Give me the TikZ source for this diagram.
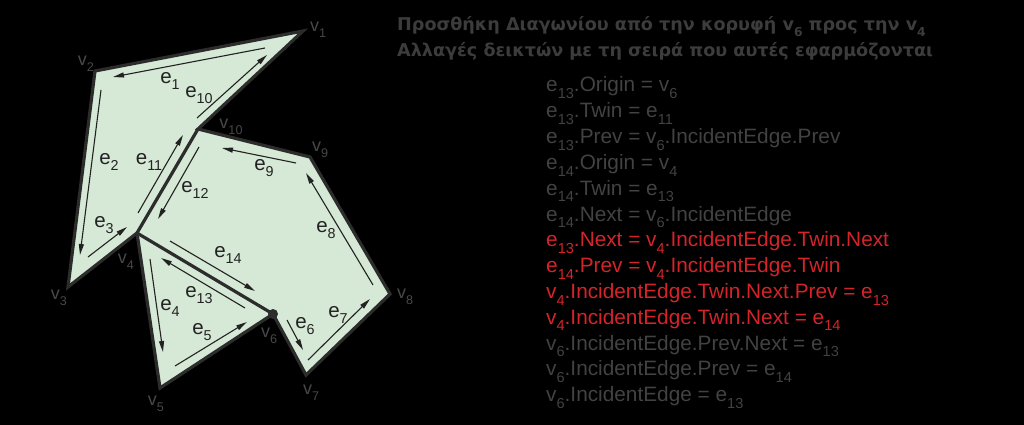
\documentclass[tikz,border=0pt]{standalone}
\usepackage{fontspec}
\setmainfont{Liberation Sans}
\newfontfamily\headfont{DejaVu Sans}
\usetikzlibrary{arrows.meta}
\newcommand\sbs[1]{\raisebox{-0.32em}{\scalebox{0.7}{#1}}}
\definecolor{facefill}{RGB}{214,232,214}
\definecolor{edgecol}{RGB}{44,44,44}
\definecolor{halfcol}{RGB}{34,34,34}
\definecolor{vlabcol}{RGB}{72,72,72}
\definecolor{txtgray}{RGB}{66,66,66}
\definecolor{txtred}{RGB}{212,36,42}
\definecolor{headcol}{RGB}{60,60,60}
\begin{document}
\begin{tikzpicture}[x=1pt,y=-1pt,
  outline/.style={draw=edgecol,line width=3.2pt,line join=miter},
  halfedge/.style={draw=halfcol,line width=1.1pt,-{Triangle[length=11pt,width=5pt]}},
  vlab/.style={text=vlabcol,font=\fontsize{18}{18}\selectfont,inner sep=0pt},
  elab/.style={text=halfcol,font=\fontsize{20.5}{20.5}\selectfont,inner sep=0pt},
  listline/.style={anchor=base west,inner sep=0pt,font=\fontsize{20.8}{20.8}\selectfont},
  headline/.style={anchor=base west,inner sep=0pt,text=headcol,font=\headfont\bfseries\fontsize{17.6}{17.6}\selectfont}]
\fill[black] (0,0) rectangle (1024,425);
\useasboundingbox (0,0) rectangle (1024,425);
% vertices
\coordinate (v1) at (303,31);
\coordinate (v2) at (95,71);
\coordinate (v3) at (68,287);
\coordinate (v4) at (137,233);
\coordinate (v5) at (160,388);
\coordinate (v6) at (273,314);
\coordinate (v7) at (306,375);
\coordinate (v8) at (390,294);
\coordinate (v9) at (310,157);
\coordinate (v10) at (198,129);
\fill[facefill] (v1)--(v2)--(v3)--(v4)--(v5)--(v6)--(v7)--(v8)--(v9)--(v10)--cycle;
\draw[outline] (v1)--(v2)--(v3)--(v4)--(v5)--(v6)--(v7)--(v8)--(v9)--(v10)--cycle;
\draw[outline] (v4)--(v10);
\draw[outline] (v4)--(v6);
\fill[edgecol] (v6) circle (5);
% half-edge end points
\coordinate (h1s) at (265,48);  \coordinate (h1e) at (113,77);
\coordinate (h10s) at (197,118); \coordinate (h10e) at (267,55);
\coordinate (h2s) at (101,90);  \coordinate (h2e) at (80,255);
\coordinate (h3s) at (88,257);  \coordinate (h3e) at (127,227);
\coordinate (h11s) at (138,213); \coordinate (h11e) at (183,135);
\coordinate (h12s) at (199,147); \coordinate (h12e) at (158,219);
\coordinate (h9s) at (296,163); \coordinate (h9e) at (222,148);
\coordinate (h8s) at (373,285); \coordinate (h8e) at (306,173);
\coordinate (h7s) at (308,360); \coordinate (h7e) at (370,299);
\coordinate (h6s) at (287,320); \coordinate (h6e) at (303,350);
\coordinate (h14s) at (170,241); \coordinate (h14e) at (255,291);
\coordinate (h13s) at (245,308); \coordinate (h13e) at (161,258);
\coordinate (h4s) at (150,259); \coordinate (h4e) at (163,352);
\coordinate (h5s) at (175,366); \coordinate (h5e) at (247,322);
\foreach \k in {1,10,2,3,11,12,9,8,7,6,14,13,4,5}
  \draw[halfedge] (h\k s) -- (h\k e);
% vertex labels
\node[vlab] (lv1) at (318,30) {v\sbs{1}};
\node[vlab] (lv2) at (86,64) {v\sbs{2}};
\node[vlab] (lv3) at (59,298) {v\sbs{3}};
\node[vlab] (lv4) at (126,262) {v\sbs{4}};
\node[vlab] (lv5) at (156,404) {v\sbs{5}};
\node[vlab] (lv6) at (269,336) {v\sbs{6}};
\node[vlab] (lv7) at (311,393) {v\sbs{7}};
\node[vlab] (lv8) at (405,297) {v\sbs{8}};
\node[vlab] (lv9) at (320,150) {v\sbs{9}};
\node[vlab] (lv10) at (231,127) {v\sbs{10}};
% edge labels
\node[elab] (le1) at (170,81) {e\sbs{1}};
\node[elab] (le10) at (199,95) {e\sbs{10}};
\node[elab] (le2) at (109,162) {e\sbs{2}};
\node[elab] (le11) at (149,162) {e\sbs{11}};
\node[elab] (le12) at (195,190) {e\sbs{12}};
\node[elab] (le9) at (264,168) {e\sbs{9}};
\node[elab] (le3) at (104,225) {e\sbs{3}};
\node[elab] (le8) at (326,230) {e\sbs{8}};
\node[elab] (le14) at (228,255) {e\sbs{14}};
\node[elab] (le13) at (199,295) {e\sbs{13}};
\node[elab] (le4) at (170,308) {e\sbs{4}};
\node[elab] (le5) at (202,332) {e\sbs{5}};
\node[elab] (le6) at (305,326) {e\sbs{6}};
\node[elab] (le7) at (338,315) {e\sbs{7}};
% heading
\node[headline] (h1) at (397,31) {Προσθήκη Διαγωνίου από την κορυφή v\sbs{6} προς την v\sbs{4}};
\node[headline] (h2) at (397,57) {Αλλαγές δεικτών με τη σειρά που αυτές εφαρμόζονται};
% list
\node[listline,text=txtgray] (l1) at (546,92) {e\sbs{13}.Origin = v\sbs{6}};
\node[listline,text=txtgray] (l2) at (546,117.8) {e\sbs{13}.Twin = e\sbs{11}};
\node[listline,text=txtgray] (l3) at (546,143.6) {e\sbs{13}.Prev = v\sbs{6}.IncidentEdge.Prev};
\node[listline,text=txtgray] (l4) at (546,169.4) {e\sbs{14}.Origin = v\sbs{4}};
\node[listline,text=txtgray] (l5) at (546,195.2) {e\sbs{14}.Twin = e\sbs{13}};
\node[listline,text=txtgray] (l6) at (546,221) {e\sbs{14}.Next = v\sbs{6}.IncidentEdge};
\node[listline,text=txtred] (l7) at (546,246.8) {e\sbs{13}.Next = v\sbs{4}.IncidentEdge.Twin.Next};
\node[listline,text=txtred] (l8) at (546,272.6) {e\sbs{14}.Prev = v\sbs{4}.IncidentEdge.Twin};
\node[listline,text=txtred] (l9) at (546,298.4) {v\sbs{4}.IncidentEdge.Twin.Next.Prev = e\sbs{13}};
\node[listline,text=txtred] (l10) at (546,324.2) {v\sbs{4}.IncidentEdge.Twin.Next = e\sbs{14}};
\node[listline,text=txtgray] (l11) at (546,350) {v\sbs{6}.IncidentEdge.Prev.Next = e\sbs{13}};
\node[listline,text=txtgray] (l12) at (546,375.8) {v\sbs{6}.IncidentEdge.Prev = e\sbs{14}};
\node[listline,text=txtgray] (l13) at (546,401.6) {v\sbs{6}.IncidentEdge = e\sbs{13}};
\end{tikzpicture}
\end{document}
